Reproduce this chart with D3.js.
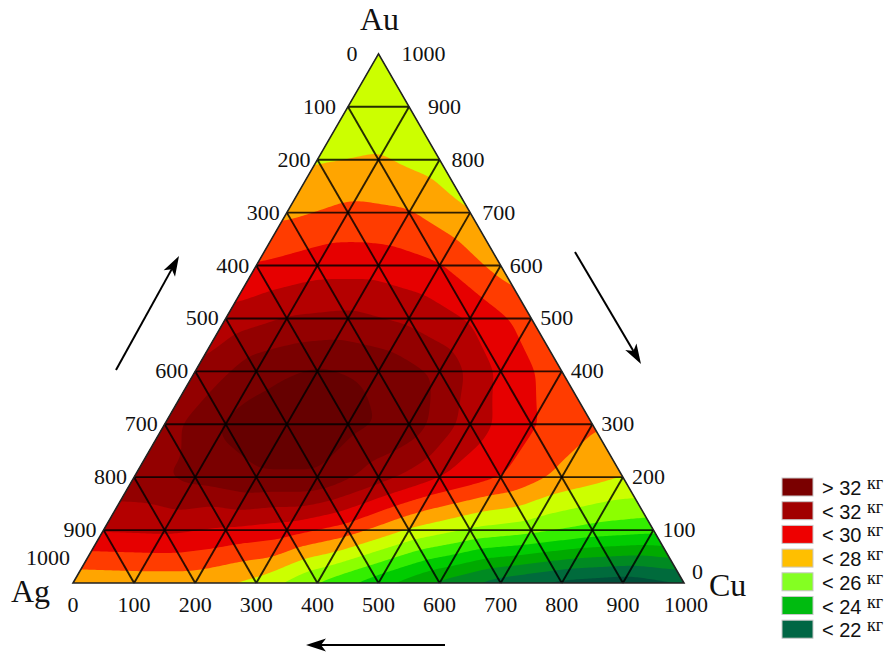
<!DOCTYPE html>
<html><head><meta charset="utf-8">
<script src="https://cdn.jsdelivr.net/npm/d3@7"></script>
<style>body{margin:0;background:#fff}svg{display:block}</style>
</head><body>
<svg id="chart" width="890" height="657"></svg>
<script>
// ---- data: mass (kg) at grid nodes; one array per Au level, from Ag side (Cu=0) to Cu side
const massAu0    = [28.2, 28.3, 28.3, 27.6, 25.8, 24.2, 22.6, 21.3, 20.5, 20.2, 20.8];
const massAu100  = [31.1, 31.2, 30.8, 30.4, 29.4, 27.8, 26.8, 26.3, 25.6, 25.3];
const massAu200  = [32.7, 33.3, 33.9, 33.9, 32.4, 31.0, 30.0, 28.7, 28.0];
const massAu300  = [32.6, 34.2, 34.6, 34.3, 33.6, 31.5, 30.1, 29.1];
const massAu400  = [32.2, 33.7, 34.2, 33.8, 32.8, 30.75, 29.4];
const massAu500  = [31.4, 32.1, 32.3, 31.8, 30.9, 29.5];
const massAu600  = [30.1, 30.6, 30.6, 30.1, 28.6];
const massAu700  = [28.8, 29.3, 29.1, 28.0];
const massAu800  = [27.9, 28.1, 27.5];
const massAu900  = [27.4, 27.3];
const massAu1000 = [27.3];
const tickValues = [0, 100, 200, 300, 400, 500, 600, 700, 800, 900, 1000];
const thresholds = [21, 22, 23, 24, 25, 26, 27, 28, 29, 30, 31, 32, 33, 34];
const bandColors = ['#00503a', '#006b3c', '#008a22', '#00aa00', '#00cc00', '#33ee00', '#8cff00',
  '#ccff00', '#ffa500', '#ff3c00', '#e60000', '#b40000', '#930000', '#7a0000', '#660000'];
const legendLabels = ['> 32', '< 32', '< 30', '< 28', '< 26', '< 24', '< 22'];
const legendColors = ['#7a0000', '#a10000', '#ee0000', '#ffbf00', '#84ff22', '#00bb10', '#006644'];

const rows = [massAu0, massAu100, massAu200, massAu300, massAu400, massAu500,
  massAu600, massAu700, massAu800, massAu900, massAu1000];

// ---- geometry
const X0 = 73, Y0 = 583, SIDE = 611;
const sCu = d3.scaleLinear().domain([0, 1000]).range([0, SIDE]);
const sAu = d3.scaleLinear().domain([0, 1000]).range([Y0, Y0 - SIDE * Math.sqrt(3) / 2]);
const proj = (au, cu) => [X0 + sCu(cu) + sCu(au) / 2, sAu(au)];

const svg = d3.select('#chart');
const tri = [proj(1000, 0), proj(0, 0), proj(0, 1000)];
svg.append('defs').append('clipPath').attr('id', 'tri')
  .append('polygon').attr('points', tri.map(p => p.join(',')).join(' '));

// ---- field raster
function V(i, j) {
  i = Math.max(0, Math.min(10, i));
  const r = rows[i];
  j = Math.max(0, Math.min(r.length - 1, j));
  return r[j];
}
function valueAt(au, cu) {
  let u = Math.max(0, Math.min(10, au / 100));
  let v = Math.max(0, Math.min(10 - u, cu / 100));
  let i0 = Math.floor(u), j0 = Math.floor(v);
  if (i0 >= 10) { i0 = 9; }
  const fu = u - i0, fv = v - j0;
  if (fu + fv <= 1) {
    return V(i0, j0) * (1 - fu - fv) + V(i0 + 1, j0) * fu + V(i0, j0 + 1) * fv;
  }
  return V(i0 + 1, j0 + 1) * (fu + fv - 1) + V(i0 + 1, j0) * (1 - fv) + V(i0, j0 + 1) * (1 - fu);
}
const BX = 50, BY = 30, STEP = 2, NX = 340, NY = 295;
const vals = new Float64Array(NX * NY);
for (let iy = 0; iy < NY; iy++) {
  const py = BY + iy * STEP;
  const au = sAu.invert(py);
  for (let ix = 0; ix < NX; ix++) {
    const px = BX + ix * STEP;
    const cu = sCu.invert(px - X0 - sCu(au) / 2);
    vals[iy * NX + ix] = valueAt(au, cu);
  }
}
// smoothing
function boxBlur(data, w, h, r) {
  const tmp = new Float64Array(data.length);
  for (let pass = 0; pass < 3; pass++) {
    for (let y = 0; y < h; y++) for (let x = 0; x < w; x++) {
      let s = 0, n = 0;
      for (let k = -r; k <= r; k++) { const xx = Math.max(0, Math.min(w - 1, x + k)); s += data[y * w + xx]; n++; }
      tmp[y * w + x] = s / n;
    }
    for (let y = 0; y < h; y++) for (let x = 0; x < w; x++) {
      let s = 0, n = 0;
      for (let k = -r; k <= r; k++) { const yy = Math.max(0, Math.min(h - 1, y + k)); s += tmp[yy * w + x]; n++; }
      data[y * w + x] = s / n;
    }
  }
}
boxBlur(vals, NX, NY, 3);

const contours = d3.contours().size([NX, NY]).thresholds(thresholds)(Array.from(vals));
const path = d3.geoPath(d3.geoIdentity().scale(STEP).translate([BX, BY]));

const field = svg.append('g').attr('clip-path', 'url(#tri)');
field.append('polygon').attr('points', tri.map(p => p.join(',')).join(' ')).attr('fill', bandColors[0]);
field.selectAll('path.band').data(contours).join('path')
  .attr('class', 'band')
  .attr('d', path)
  .attr('fill', (d, k) => bandColors[thresholds.indexOf(d.value) + 1]);

// ---- grid
const grid = svg.append('g').attr('stroke', '#000').attr('stroke-opacity', 0.82)
  .attr('stroke-width', 1.9).attr('fill', 'none');
const inner = tickValues.slice(1, -1);
const line = d3.line();
inner.forEach(t => {
  grid.append('path').attr('d', line([proj(t, 0), proj(t, 1000 - t)]));
  grid.append('path').attr('d', line([proj(0, t), proj(1000 - t, t)]));
  grid.append('path').attr('d', line([proj(0, 1000 - t), proj(1000 - t, 0)]));
});
svg.append('polygon').attr('points', tri.map(p => p.join(',')).join(' '))
  .attr('fill', 'none').attr('stroke', '#222').attr('stroke-width', 1.6);

// ---- tick labels
const font = '"Liberation Serif", "Times New Roman", serif';
const labels = svg.append('g').attr('font-family', font).attr('font-size', 22).attr('fill', '#111');
// left side: Ag
tickValues.forEach(t => {
  const au = 1000 - t;
  const p = proj(au, 0);
  let dx = -7, dy = 7;
  if (t === 0) dx = -21;
  if (t === 100) dx = -12;
  if (t === 1000) { dx = -3; dy = -18; }
  labels.append('text').attr('x', p[0] + dx).attr('y', p[1] + dy)
    .attr('text-anchor', 'end').text(t);
});
// right side: Au
tickValues.forEach(t => {
  const p = proj(t, 1000 - t);
  let dx = 9, dy = 7;
  if (t === 1000) dx = 23;
  if (t === 900) dx = 19;
  if (t === 800 || t === 700) dx = 12;
  if (t === 0) { dx = 8; dy = -4; }
  labels.append('text').attr('x', p[0] + dx).attr('y', p[1] + dy)
    .attr('text-anchor', 'start').text(t);
});
// bottom: Cu
tickValues.forEach(t => {
  const p = proj(0, t);
  labels.append('text').attr('x', p[0] + (t === 1000 ? 2 : 0)).attr('y', p[1] + 29)
    .attr('text-anchor', 'middle').text(t);
});

// ---- axis titles
const titles = svg.append('g').attr('font-family', font).attr('fill', '#111').attr('font-size', 32);
titles.append('text').attr('x', proj(1000, 0)[0] + 1).attr('y', 30).attr('text-anchor', 'middle').text('Au');
titles.append('text').attr('x', 11).attr('y', 602).text('Ag');
titles.append('text').attr('x', 709).attr('y', 596).text('Cu');

// ---- arrows
function arrow(x1, y1, x2, y2) {
  const ang = Math.atan2(y2 - y1, x2 - x1);
  const L = 20, W = 6.5, N = 15;
  const ux = Math.cos(ang), uy = Math.sin(ang), nx = -uy, ny = ux;
  const g = svg.append('g');
  g.append('line').attr('x1', x1).attr('y1', y1)
    .attr('x2', x2 - ux * N).attr('y2', y2 - uy * N)
    .attr('stroke', '#000').attr('stroke-width', 2);
  const pts = [[x2, y2], [x2 - ux * L + nx * W, y2 - uy * L + ny * W],
    [x2 - ux * N, y2 - uy * N], [x2 - ux * L - nx * W, y2 - uy * L - ny * W]];
  g.append('polygon').attr('points', pts.map(p => p.join(',')).join(' ')).attr('fill', '#000');
}
arrow(116, 370, 179, 256);
arrow(575, 252, 641, 364);
arrow(445, 645, 306, 645);

// ---- legend
const lg = svg.append('g');
legendLabels.forEach((lab, k) => {
  const y = 478 + k * 23.7;
  lg.append('rect').attr('x', 782).attr('y', y).attr('width', 31).attr('height', 18)
    .attr('fill', legendColors[k]).attr('stroke', '#c8c8c8').attr('stroke-width', 1);
  lg.append('text').attr('x', 822).attr('y', y + 17)
    .attr('font-family', '"Liberation Sans", Arial, sans-serif').attr('font-size', 20)
    .attr('fill', '#111').text(lab);
  lg.append('text').attr('x', 867).attr('y', y + 11)
    .attr('font-family', font).attr('font-size', 18).attr('fill', '#111').text('кг');
});
</script>
</body></html>
